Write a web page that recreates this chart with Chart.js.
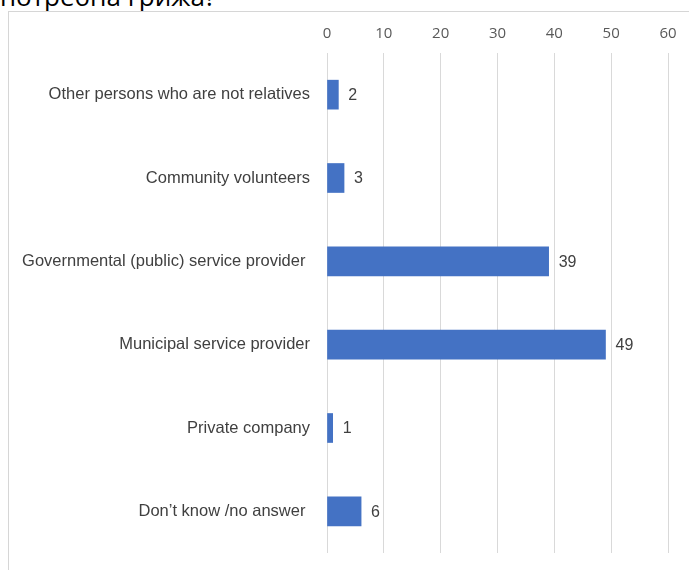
<!DOCTYPE html>
<html>
<head>
<meta charset="utf-8">
<script src="https://cdn.jsdelivr.net/npm/chart.js@4"></script>
<style>
    html, body { margin: 0; padding: 0; background: #fff; overflow: hidden; }
    #page { position: relative; width: 689px; height: 570px; overflow: hidden; }
    #topText {
        position: absolute; left: 0; top: -22px; width: 216px; text-align: right;
        font-family: "Open Sans", sans-serif; font-size: 26px; color: #000; white-space: nowrap;
    }
    #frame {
        position: absolute; left: 8px; top: 11px; width: 720px; height: 600px;
        border: 1px solid #d6d6d6;
    }
    #chart { position: absolute; left: 0; top: 0; }
</style>
</head>
<body>
<div id="page">
    <div id="topText">потребна грижа?</div>
    <div id="frame"></div>
    <canvas id="chart" width="689" height="570"></canvas>
</div>
<script>
//// Data

// categories, top to bottom
const categories = [
    "Other persons who are not relatives",
    "Community volunteers",
    "Governmental (public) service provider ",
    "Municipal service provider",
    "Private company",
    "Don\u2019t know /no answer "
];

// number of answers
const answerCounts = [2, 3, 39, 49, 1, 6];

// axis ticks
const axisTicks = [0, 10, 20, 30, 40, 50, 60];

//// Chart

// value labels to the right of each bar
const valueLabels = {
    id: 'valueLabels',
    afterDatasetsDraw(chart) {
        const ctx = chart.ctx;
        const meta = chart.getDatasetMeta(0);
        ctx.save();
        ctx.font = '16px "Liberation Sans", Arial, sans-serif';
        ctx.fillStyle = '#404040';
        ctx.textAlign = 'left';
        ctx.textBaseline = 'middle';
        meta.data.forEach((bar, i) => {
            ctx.fillText(String(chart.data.datasets[0].data[i]), bar.x + 10, bar.y + 1);
        });
        ctx.restore();
    }
};

const chartInitial = () => {
    const chartCanvas = document.getElementById('chart');

    new Chart(chartCanvas, {
        type: 'bar',
        data: {
            labels: categories,
            datasets: [{
                data: answerCounts,
                backgroundColor: '#4472c4',
                barThickness: 29
            }]
        },
        options: {
            indexAxis: 'y',
            responsive: false,
            animation: false,
            layout: { padding: { left: 0, right: 21, top: 0, bottom: 17 } },
            plugins: {
                legend: { display: false },
                tooltip: { enabled: false }
            },
            scales: {
                x: {
                    position: 'top',
                    min: axisTicks[0],
                    max: axisTicks[axisTicks.length - 1],
                    afterBuildTicks: (scale) => {
                        scale.ticks = axisTicks.map(v => ({ value: v }));
                    },
                    afterFit: (scale) => { scale.height = 53; },
                    grid: { color: '#d9d9d9', lineWidth: 1, drawTicks: false },
                    border: { display: false },
                    ticks: {
                        padding: 10,
                        color: '#595959',
                        font: { family: '"Open Sans", sans-serif', size: 15 }
                    }
                },
                y: {
                    afterFit: (scale) => {
                        // fixed label column, no extra space asked for above/below
                        scale.width = 327;
                        scale.paddingTop = 0;
                        scale.paddingBottom = 0;
                    },
                    grid: { display: false, drawTicks: false },
                    border: { display: false },
                    ticks: {
                        padding: 17,
                        color: '#404040',
                        font: { family: '"Liberation Sans", Arial, sans-serif', size: 16.5 }
                    }
                }
            }
        },
        plugins: [valueLabels]
    });
}

//// Executions state
chartInitial();
</script>
</body>
</html>
